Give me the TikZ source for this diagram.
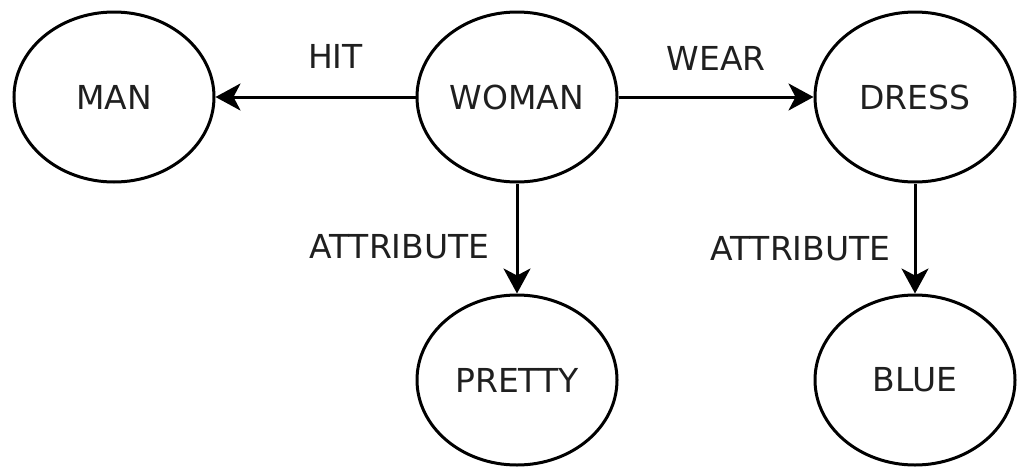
\documentclass[tikz,border=0pt]{standalone}
\usepackage{fontspec}
\setmainfont{DejaVu Sans}
\usetikzlibrary{positioning,arrows.meta,shapes.geometric}
\tikzset{
  concept/.style={ellipse, draw=black, line width=3pt, minimum width=200pt, minimum height=170pt, inner sep=0pt, font=\fontsize{33}{40}\selectfont, text=black!88},
  relarr/.style={-{Stealth[length=25pt, width=27pt, inset=7pt]}, line width=3pt, draw=black},
  rellabel/.style={inner sep=0pt, font=\fontsize{33}{40}\selectfont, text=black!88}
}

\begin{document}
\begin{tikzpicture}[x=1pt, y=-1pt]
\useasboundingbox (0,0) rectangle (1017,466);
\node[concept] (woman) at (517,97) {WOMAN};
\node[concept, left=200pt of woman] (man) {MAN};
\node[concept, right=195pt of woman] (dress) {DRESS};
\node[concept, below=110pt of woman] (pretty) {PRETTY};
\node[concept, below=110pt of dress] (blue) {BLUE};
\draw[relarr] (woman) -- node[rellabel, above=27pt, pos=0.4] {HIT} (man);
\draw[relarr] (woman) -- node[rellabel, above=25pt] {WEAR} (dress);
\draw[relarr] (woman) -- node[rellabel, left=26pt, pos=0.57] {ATTRIBUTE} (pretty);
\draw[relarr] (dress) -- node[rellabel, left=23pt, pos=0.59] {ATTRIBUTE} (blue);
\end{tikzpicture}
\end{document}
